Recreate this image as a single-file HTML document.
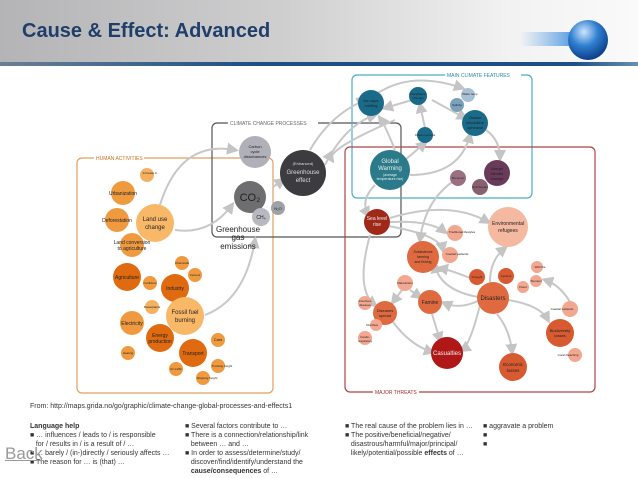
<!DOCTYPE html>
<html><head><meta charset="utf-8"><style>
body{margin:0;width:638px;height:478px;overflow:hidden;background:#fff;font-family:"Liberation Sans",sans-serif}
#hdr{position:absolute;left:0;top:0;width:638px;height:63px;background:linear-gradient(90deg,#b4b4b6 0%,#cfcfd0 45%,#f2f2f2 80%,#fafafa 100%)}
#bar{position:absolute;left:0;top:62px;width:638px;height:4px;background:linear-gradient(90deg,#6a7f96,#1d4f86 40%,#1d4f86 90%,#6a8fb0)}
#title{position:absolute;left:22px;top:20px;font-size:20px;font-weight:bold;color:#1f3f6a}
.t{position:absolute;font-size:7px;color:#333;line-height:9px;white-space:nowrap}
</style></head><body>
<div id="hdr"></div><div id="bar"></div>
<div id="title">Cause &amp; Effect: Advanced</div>
<svg width="638" height="478" style="position:absolute;left:0;top:0" font-family="Liberation Sans,sans-serif">
<defs>
<radialGradient id="sp" cx="0.4" cy="0.3" r="0.7"><stop offset="0" stop-color="#cfe6ff"/><stop offset="0.5" stop-color="#2f7fd0"/><stop offset="1" stop-color="#0d3f8a"/></radialGradient>
<linearGradient id="sw" x1="0" x2="1"><stop offset="0" stop-color="#5aa0e0" stop-opacity="0"/><stop offset="1" stop-color="#3f8ee0"/></linearGradient>
<marker id="a" markerWidth="6" markerHeight="6" refX="4" refY="3" orient="auto"><path d="M0,0L6,3L0,6z" fill="#c4c4c4"/></marker>
</defs>
<rect x="520" y="32" width="60" height="14" fill="url(#sw)"/>
<circle cx="588" cy="40" r="20" fill="url(#sp)"/>
<g fill="none" stroke-width="1.2">
<rect x="77" y="158" width="196" height="235" rx="5" stroke="#e0a060"/>
<rect x="212" y="123" width="189" height="114" rx="5" stroke="#555"/>
<rect x="352" y="75" width="180" height="123" rx="5" stroke="#4aaec6"/>
<rect x="345" y="147" width="250" height="245" rx="5" stroke="#b04444"/>
</g>
<g font-size="5" fill="#666">
<rect x="94" y="154" width="50" height="8" fill="#fff"/><text x="96" y="160" fill="#d07020">HUMAN ACTIVITIES</text>
<rect x="228" y="119" width="90" height="8" fill="#fff"/><text x="230" y="125">CLIMATE CHANGE PROCESSES</text>
<rect x="445" y="71" width="76" height="8" fill="#fff"/><text x="447" y="77" fill="#2a8aaa">MAIN CLIMATE FEATURES</text>
<rect x="373" y="388" width="46" height="8" fill="#fff"/><text x="375" y="394" fill="#a03030">MAJOR THREATS</text>
</g>
<g fill="none" stroke="#c8c8c8" stroke-width="2" marker-end="url(#a)">
<path d="M160,205 Q180,140 235,150"/>
<path d="M175,230 Q210,235 232,205"/>
<path d="M205,315 Q245,300 255,240"/>
<path d="M273,187 L283,180"/>
<path d="M310,150 Q330,115 365,100"/>
<path d="M325,165 Q345,125 375,115"/>
<path d="M395,150 Q385,125 380,118"/>
<path d="M395,120 Q325,150 332,160"/>
<path d="M405,160 L425,143"/>
<path d="M410,175 Q460,175 470,135"/>
<path d="M375,95 Q410,70 462,88"/>
<path d="M412,100 L385,108"/>
<path d="M425,128 L420,105"/>
<path d="M432,100 L465,118"/>
<path d="M486,130 Q500,140 500,158"/>
<path d="M375,185 Q360,200 368,215"/>
<path d="M390,218 Q450,200 488,222"/>
<path d="M390,222 Q430,220 445,232"/>
<path d="M388,226 Q440,235 443,250"/>
<path d="M455,180 Q425,200 420,240"/>
<path d="M370,235 Q355,290 375,305"/>
<path d="M490,282 Q490,260 505,248"/>
<path d="M478,297 Q440,290 435,265"/>
<path d="M480,300 Q460,310 444,303"/>
<path d="M480,305 Q470,345 462,350"/>
<path d="M497,314 Q510,330 512,352"/>
<path d="M508,300 Q540,305 548,320"/>
<path d="M570,302 Q560,285 545,280"/>
<path d="M432,314 L440,340"/>
<path d="M393,322 Q410,345 432,352"/>
<path d="M410,290 L420,297"/>
<path d="M402,290 L393,302"/>
<path d="M470,278 Q450,270 440,268"/>
</g>
<g text-anchor="middle" font-size="5" fill="#222">
<!-- human activities -->
<circle cx="147" cy="175" r="7" fill="#f5b060"/><text x="150" y="174" font-size="3">Increase in</text>
<circle cx="123" cy="193" r="12" fill="#f09a40"/><text x="123" y="195">Urbanization</text>
<circle cx="117" cy="220" r="12" fill="#f09a40"/><text x="117" y="222">Deforestation</text>
<circle cx="155" cy="223" r="19" fill="#f8b868"/><text x="155" y="221" font-size="6">Land use</text><text x="155" y="229" font-size="6">change</text>
<circle cx="132" cy="245" r="12" fill="#f09a40"/><text x="132" y="244">Land conversion</text><text x="132" y="250">to agriculture</text>
<circle cx="182" cy="263" r="7" fill="#f09a40"/><text x="182" y="264" font-size="3">Chemicals</text>
<circle cx="195" cy="275" r="7" fill="#f09a40"/><text x="195" y="276" font-size="3">Cement</text>
<circle cx="127" cy="277" r="14" fill="#e06a10"/><text x="127" y="279">Agriculture</text>
<circle cx="150" cy="283" r="7" fill="#f09a40"/><text x="150" y="284" font-size="3">Fertilizers</text>
<circle cx="175" cy="288" r="14" fill="#e06a10"/><text x="175" y="290">Industry</text>
<circle cx="152" cy="307" r="7" fill="#f5b060"/><text x="152" y="308" font-size="3">Powerplants</text>
<circle cx="185" cy="316" r="19" fill="#f8b868"/><text x="185" y="314" font-size="6">Fossil fuel</text><text x="185" y="322" font-size="6">burning</text>
<circle cx="132" cy="323" r="12" fill="#f09a40"/><text x="132" y="325">Electricity</text>
<circle cx="160" cy="338" r="14" fill="#e06a10"/><text x="160" y="337">Energy</text><text x="160" y="343">production</text>
<circle cx="128" cy="353" r="7" fill="#f09a40"/><text x="128" y="354" font-size="3">Heating</text>
<circle cx="218" cy="340" r="7" fill="#f09a40"/><text x="218" y="341" font-size="4">Cars</text>
<circle cx="193" cy="353" r="14" fill="#e06a10"/><text x="193" y="355">Transport</text>
<circle cx="218" cy="366" r="7" fill="#f09a40"/><text x="222" y="367" font-size="3">Trucking freight</text>
<circle cx="176" cy="369" r="7" fill="#f09a40"/><text x="176" y="370" font-size="3">Air traffic</text>
<circle cx="203" cy="378" r="7" fill="#f09a40"/><text x="207" y="379" font-size="3">Shipping freight</text>
<!-- processes -->
<circle cx="255" cy="152" r="16" fill="#b0b0b8"/><text x="255" y="148" font-size="4">Carbon</text><text x="255" y="153" font-size="4">cycle</text><text x="255" y="158" font-size="4">disturbances</text>
<circle cx="250" cy="197" r="16" fill="#6e6e70"/><text x="250" y="201" font-size="11" fill="#222">CO₂</text>
<circle cx="261" cy="217" r="9" fill="#b8b8c0"/><text x="261" y="219">CH₄</text>
<circle cx="278" cy="208" r="7" fill="#a0a0a8"/><text x="278" y="210" font-size="4">N₂O</text>
<circle cx="303" cy="173" r="23" fill="#3c3c40"/><text x="303" y="165" font-size="4" fill="#ddd">(Enhanced)</text><text x="303" y="174" font-size="6" fill="#ddd">Greenhouse</text><text x="303" y="182" font-size="6" fill="#ddd">effect</text>
<text x="238" y="232" font-size="8">Greenhouse</text><text x="238" y="240" font-size="8">gas</text><text x="238" y="249" font-size="8">emissions</text>
<!-- features -->
<circle cx="371" cy="103" r="13" fill="#1a6a8a"/><text x="371" y="102" font-size="4">Ice cape</text><text x="371" y="107" font-size="4">melting</text>
<circle cx="418" cy="96" r="9" fill="#1a6a8a"/><text x="418" y="95" font-size="3">Precipitation</text><text x="418" y="99" font-size="3">changes</text>
<circle cx="468" cy="95" r="7" fill="#a8c0d4"/><text x="470" y="95" font-size="3">Water temp</text>
<circle cx="457" cy="105" r="7" fill="#7aa0bc"/><text x="457" y="106" font-size="3">Salinity</text>
<circle cx="475" cy="123" r="13" fill="#1a6a8a"/><text x="475" y="119" font-size="4">Ocean</text><text x="475" y="124" font-size="4">circulation</text><text x="475" y="129" font-size="4">upheaval</text>
<circle cx="425" cy="135" r="8" fill="#1a6a8a"/><text x="425" y="136" font-size="3">Ocean currents</text>
<circle cx="390" cy="170" r="20" fill="#2a7a8a"/><text x="390" y="163" font-size="6" fill="#eee">Global</text><text x="390" y="170" font-size="6" fill="#eee">Warming</text><text x="390" y="176" font-size="3.5" fill="#eee">(average</text><text x="390" y="180" font-size="3.5" fill="#eee">temperature rise)</text>
<circle cx="497" cy="173" r="13" fill="#6a3a5a"/><text x="497" y="170" font-size="4">Abrupt</text><text x="497" y="175" font-size="4">climate</text><text x="497" y="180" font-size="4">change</text>
<circle cx="458" cy="178" r="8" fill="#9a7080"/><text x="458" y="179" font-size="3">Monsoon</text>
<circle cx="480" cy="187" r="8" fill="#8a6070"/><text x="480" y="188" font-size="3">Gulf Stream</text>
<!-- threats -->
<circle cx="377" cy="222" r="13" fill="#a02818"/><text x="377" y="220" font-size="5" fill="#eee">Sea level</text><text x="377" y="226" font-size="5" fill="#eee">rise</text>
<circle cx="508" cy="227" r="20" fill="#f5b8a0"/><text x="508" y="225" font-size="5">Environmental</text><text x="508" y="232" font-size="5">refugees</text>
<circle cx="455" cy="233" r="8" fill="#f2a890"/><text x="462" y="233" font-size="3">Traditional lifestyles</text>
<circle cx="450" cy="255" r="8" fill="#f2a890"/><text x="457" y="255" font-size="3">Coastal wetlands</text>
<circle cx="423" cy="257" r="16" fill="#e06a40"/><text x="423" y="253" font-size="3.5">Subsistence</text><text x="423" y="258" font-size="3.5">farming</text><text x="423" y="263" font-size="3.5">and fishing</text>
<circle cx="477" cy="277" r="8" fill="#d85a30"/><text x="477" y="278" font-size="3">Drought</text>
<circle cx="506" cy="276" r="8" fill="#d85a30"/><text x="506" y="277" font-size="3">Cyclone</text>
<circle cx="537" cy="267" r="6" fill="#f2a890"/><text x="540" y="268" font-size="3">Wild fire</text>
<circle cx="536" cy="281" r="6" fill="#f2a890"/><text x="536" y="282" font-size="3">Tsunami</text>
<circle cx="523" cy="287" r="6" fill="#f2a890"/><text x="523" y="288" font-size="3">Flood</text>
<circle cx="405" cy="283" r="8" fill="#f2a890"/><text x="405" y="284" font-size="3">Malnutrition</text>
<circle cx="430" cy="302" r="12" fill="#e06a40"/><text x="430" y="304">Famine</text>
<circle cx="493" cy="298" r="16" fill="#e06a40"/><text x="493" y="300" font-size="6">Disasters</text>
<circle cx="365" cy="303" r="7" fill="#f2a890"/><text x="365" y="302" font-size="3">Infectious</text><text x="365" y="306" font-size="3">diseases</text>
<circle cx="385" cy="313" r="12" fill="#e06a40"/><text x="385" y="312" font-size="4">Diseases</text><text x="385" y="317" font-size="4">spread</text>
<circle cx="376" cy="325" r="6" fill="#f2a890"/><text x="372" y="326" font-size="3">Diarrhea</text>
<circle cx="365" cy="338" r="7" fill="#f2a890"/><text x="365" y="338" font-size="3">Cardio-</text><text x="365" y="342" font-size="3">respiratory</text>
<circle cx="570" cy="309" r="8" fill="#f2a890"/><text x="562" y="310" font-size="3">Coastal wetlands</text>
<circle cx="560" cy="333" r="14" fill="#d85a30"/><text x="560" y="332" font-size="4">Biodiversity</text><text x="560" y="337" font-size="4">losses</text>
<circle cx="575" cy="355" r="7" fill="#f2a890"/><text x="568" y="356" font-size="3">Coral bleaching</text>
<circle cx="447" cy="353" r="16" fill="#b01818"/><text x="447" y="355" font-size="6" fill="#eee">Casualties</text>
<circle cx="513" cy="367" r="14" fill="#d85a30"/><text x="513" y="366" font-size="4.5">Economic</text><text x="513" y="372" font-size="4.5">losses</text>
</g>
</svg>
<div class="t" style="left:30px;top:402px">From: http://maps.grida.no/go/graphic/climate-change-global-processes-and-effects1</div>
<div class="t" style="left:30px;top:422px"><b>Language help</b><br>■ … influences / leads to / is responsible<br>&nbsp;&nbsp;&nbsp;for / results in / is a result of / …<br>■ … barely / (in-)directly / seriously affects …<br>■ The reason for … is (that) …</div>
<div class="t" style="left:185px;top:422px">■ Several factors contribute to …<br>■ There is a connection/relationship/link<br>&nbsp;&nbsp;&nbsp;between … and …<br>■ In order to assess/determine/study/<br>&nbsp;&nbsp;&nbsp;discover/find/identify/understand the<br>&nbsp;&nbsp;&nbsp;<b>cause/consequences</b> of …</div>
<div class="t" style="left:345px;top:422px">■ The real cause of the problem lies in …<br>■ The positive/beneficial/negative/<br>&nbsp;&nbsp;&nbsp;disastrous/harmful/major/principal/<br>&nbsp;&nbsp;&nbsp;likely/potential/possible <b>effects</b> of …</div>
<div class="t" style="left:483px;top:422px">■ aggravate a problem<br>■<br>■</div>
<div style="position:absolute;left:5px;top:444px;font-size:17px;color:#999;text-decoration:underline">Back</div>
</body></html>
